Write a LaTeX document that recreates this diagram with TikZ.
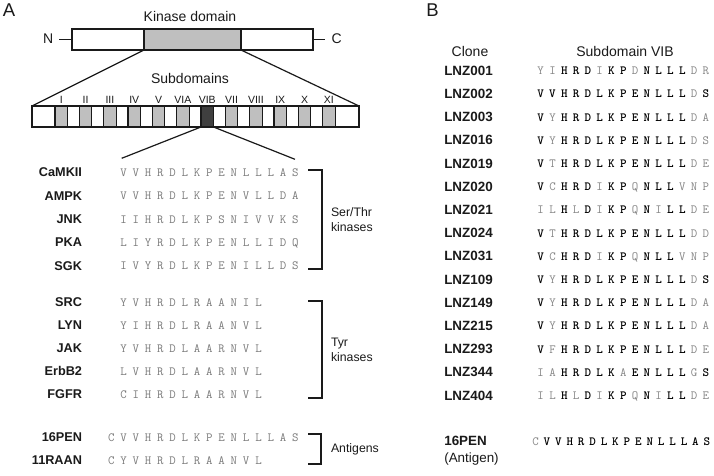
\documentclass[tikz,border=0pt]{standalone}
\usepackage{fontspec}
\setmainfont{Liberation Sans}
\definecolor{boxgrey}{HTML}{BFBFBF}
\definecolor{darkbox}{HTML}{3F3F3F}
\definecolor{seqgrey}{HTML}{7A7A7A}
\definecolor{seqlight}{HTML}{858585}
\definecolor{ink}{HTML}{1A1A1A}
\tikzset{
 txt/.style={inner sep=0pt, outer sep=0pt, text depth=0pt, text height=0.72em, text=ink},
 panel/.style={txt, font=\fontsize{18.5}{20}\selectfont},
 head/.style={txt, font=\fontsize{14}{16}\selectfont},
 rom/.style={txt, font=\fontsize{10.5}{12}\selectfont},
 nameA/.style={txt, anchor=east, font=\fontsize{12.7}{15}\selectfont\bfseries},
 nameB/.style={txt, anchor=west, font=\fontsize{13.4}{15}\selectfont\bfseries},
 grp/.style={inner sep=0pt, outer sep=0pt, anchor=west, align=left, text=ink, font=\fontsize{12.3}{15}\selectfont},
 seqbase/.style={inner sep=0pt, outer sep=0pt, text depth=0pt, text height=0.61em},
 seqa/.style={seqbase, font=\fontsize{12.5}{13}\ttfamily, text=seqgrey},
 seqn/.style={seqbase, font=\fontsize{12.5}{13}\ttfamily, text=seqlight},
 seqb/.style={seqbase, font=\fontsize{12.5}{13}\ttfamily\bfseries, text=black},
 bar/.style={draw=ink, line width=1.2pt, fill=white, inner sep=0pt, outer sep=0pt, minimum height=21pt},
 conn/.style={draw=ink, line width=1.2pt},
 brk/.style={draw=ink, line width=1.3pt},
}
\newcommand\seqA[4]{%
 \foreach \c [count=\i from 0] in {#4} {\node[seqa] (#1-\i) at ({123.5+12.27*(\i+#2)}, #3) {\c};}}
\newcommand\seqB[5]{%
 \foreach \s/\c [count=\i from 0] in {#5} {\node[seq\s] (#1-\i) at ({#2+#3*\i}, #4) {\c};}}
\begin{document}
\begin{tikzpicture}[x=1pt,y=-1pt]
\useasboundingbox (0,0) rectangle (714,476);
\fill[white] (0,0) rectangle (714,476);

% ---------- Panel A ----------
\node[panel] (labA) at (9,13.3) {A};
\node[head] (kdlab) at (190,18) {Kinase domain};
\node[bar, minimum width=241pt] (prot) at (192.5,39.5) {};
\node[bar, fill=boxgrey, minimum width=97pt] (kd) at (192.5,39.5) {};
\node[head] (nterm) at (48.3,39.5) {N};
\node[head] (cterm) at (336.7,39.5) {C};
\draw[conn] (nterm.east) ++(6pt,0) -- (prot.west);
\draw[conn] (prot.east) -- ++(12pt,0);

\node[head] (sublab) at (190,80) {Subdomains};
\node[bar, minimum width=327pt] (sd) at (195.5,116.5) {};
\foreach \k in {0,...,10} {
  \pgfmathsetmacro\wx{61.25+24.33*\k+12.165}
  \node[bar, minimum width=11.8pt] (wh\k) at (\wx,116.5) {};
}
\foreach \r [count=\k from 0] in {I,II,III,IV,V,VIA,VIB,VII,VIII,IX,X,XI} {
  \pgfmathsetmacro\cx{61.25+24.33*\k}
  \ifnum\k=6
    \node[bar, fill=darkbox, minimum width=12.5pt] (sub\k) at (\cx,116.5) {};
  \else
    \node[bar, fill=boxgrey, minimum width=12.5pt] (sub\k) at (\cx,116.5) {};
  \fi
  \node[rom] (rl\k) at (\cx,100) {\r};
}
\draw[conn] (kd.south west) -- (sd.north west);
\draw[conn] (kd.south east) -- (sd.north east);
\coordinate (zl) at (121.7,158.3);
\coordinate (zr) at (295,159.3);
\draw[conn] (sub6.south west) -- (zl);
\draw[conn] (sub6.south east) -- (zr);

% names
\node[nameA] (nCaMKII) at (82,173.3) {CaMKII};
\node[nameA] (nAMPK) at (82,196.7) {AMPK};
\node[nameA] (nJNK) at (82,220) {JNK};
\node[nameA] (nPKA) at (82,243.3) {PKA};
\node[nameA] (nSGK) at (82,266.7) {SGK};
\node[nameA] (nSRC) at (82,303) {SRC};
\node[nameA] (nLYN) at (82,326) {LYN};
\node[nameA] (nJAK) at (82,349) {JAK};
\node[nameA] (nErbB) at (82,372) {ErbB2};
\node[nameA] (nFGFR) at (82,395) {FGFR};
\node[nameA] (n16A) at (82,438) {16PEN};
\node[nameA] (n11A) at (82,461) {11RAAN};

\seqA{sCaMKII}{0}{173.3}{V,V,H,R,D,L,K,P,E,N,L,L,L,A,S}
\seqA{sAMPK}{0}{196.7}{V,V,H,R,D,L,K,P,E,N,V,L,L,D,A}
\seqA{sJNK}{0}{220}{I,I,H,R,D,L,K,P,S,N,I,V,V,K,S}
\seqA{sPKA}{0}{243.3}{L,I,Y,R,D,L,K,P,E,N,L,L,I,D,Q}
\seqA{sSGK}{0}{266.7}{I,V,Y,R,D,L,K,P,E,N,I,L,L,D,S}
\seqA{sSRC}{0}{303}{Y,V,H,R,D,L,R,A,A,N,I,L}
\seqA{sLYN}{0}{326}{Y,I,H,R,D,L,R,A,A,N,V,L}
\seqA{sJAK}{0}{349}{Y,V,H,R,D,L,A,A,R,N,V,L}
\seqA{sErbB}{0}{372}{L,V,H,R,D,L,A,A,R,N,V,L}
\seqA{sFGFR}{0}{395}{C,I,H,R,D,L,A,A,R,N,V,L}
\seqA{s16A}{-1}{438}{C,V,V,H,R,D,L,K,P,E,N,L,L,L,A,S}
\seqA{s11A}{-1}{461}{C,Y,V,H,R,D,L,R,A,A,N,V,L}

% brackets
\draw[brk] (308,170) -- (322,170) -- (322,269) -- (308,269);
\draw[brk] (308,301) -- (322,301) -- (322,398) -- (308,398);
\draw[brk] (308,434) -- (321,434) -- (321,464) -- (308,464);
\node[grp] (gST) at (331,219.5) {Ser/Thr\\kinases};
\node[grp] (gTyr) at (331,349.5) {Tyr\\kinases};
\node[grp] (gAg) at (331,449) {Antigens};

% ---------- Panel B ----------
\node[panel] (labB) at (432.5,13.3) {B};
\node[head] (hClone) at (470,53) {Clone};
\node[head] (hSub) at (625,53) {Subdomain VIB};

\node[nameB] (b001) at (444.3,71.7) {LNZ001};
\node[nameB] (b002) at (444.3,94.9) {LNZ002};
\node[nameB] (b003) at (444.3,118.1) {LNZ003};
\node[nameB] (b016) at (444.3,141.3) {LNZ016};
\node[nameB] (b019) at (444.3,164.5) {LNZ019};
\node[nameB] (b020) at (444.3,187.7) {LNZ020};
\node[nameB] (b021) at (444.3,210.9) {LNZ021};
\node[nameB] (b024) at (444.3,234.1) {LNZ024};
\node[nameB] (b031) at (444.3,257.3) {LNZ031};
\node[nameB] (b109) at (444.3,280.5) {LNZ109};
\node[nameB] (b149) at (444.3,303.7) {LNZ149};
\node[nameB] (b215) at (444.3,326.9) {LNZ215};
\node[nameB] (b293) at (444.3,350.1) {LNZ293};
\node[nameB] (b344) at (444.3,373.3) {LNZ344};
\node[nameB] (b404) at (444.3,396.5) {LNZ404};
\node[nameB] (b16) at (444.3,442) {16PEN};
\node[txt, anchor=west, font=\fontsize{13.4}{15}\selectfont] (bAg) at (444.3,459) {(Antigen)};

\def\px{540.7}\def\pp{11.8}
\seqB{q001}{\px}{\pp}{71.7}{n/Y,n/I,b/H,b/R,b/D,n/I,b/K,b/P,n/D,b/N,b/L,b/L,b/L,n/D,n/R}
\seqB{q002}{\px}{\pp}{94.9}{b/V,b/V,b/H,b/R,b/D,b/L,b/K,b/P,b/E,b/N,b/L,b/L,b/L,n/D,b/S}
\seqB{q003}{\px}{\pp}{118.1}{b/V,n/Y,b/H,b/R,b/D,b/L,b/K,b/P,b/E,b/N,b/L,b/L,b/L,n/D,n/A}
\seqB{q016}{\px}{\pp}{141.3}{b/V,n/Y,b/H,b/R,b/D,b/L,b/K,b/P,b/E,b/N,b/L,b/L,b/L,n/D,n/S}
\seqB{q019}{\px}{\pp}{164.5}{b/V,n/T,b/H,b/R,b/D,b/L,b/K,b/P,b/E,b/N,b/L,b/L,b/L,n/D,n/E}
\seqB{q020}{\px}{\pp}{187.7}{b/V,n/C,b/H,b/R,b/D,n/I,b/K,b/P,n/Q,b/N,b/L,b/L,n/V,n/N,n/P}
\seqB{q021}{\px}{\pp}{210.9}{n/I,n/L,b/H,n/L,b/D,n/I,b/K,b/P,n/Q,b/N,n/I,b/L,b/L,n/D,n/E}
\seqB{q024}{\px}{\pp}{234.1}{b/V,n/T,b/H,b/R,b/D,b/L,b/K,b/P,b/E,b/N,b/L,b/L,b/L,n/D,n/D}
\seqB{q031}{\px}{\pp}{257.3}{b/V,n/C,b/H,b/R,b/D,n/I,b/K,b/P,n/Q,b/N,b/L,b/L,n/V,n/N,n/P}
\seqB{q109}{\px}{\pp}{280.5}{b/V,n/Y,b/H,b/R,b/D,b/L,b/K,b/P,b/E,b/N,b/L,b/L,b/L,n/D,b/S}
\seqB{q149}{\px}{\pp}{303.7}{b/V,n/Y,b/H,b/R,b/D,b/L,b/K,b/P,b/E,b/N,b/L,b/L,b/L,n/D,n/A}
\seqB{q215}{\px}{\pp}{326.9}{b/V,n/Y,b/H,b/R,b/D,b/L,b/K,b/P,b/E,b/N,b/L,b/L,b/L,n/D,n/A}
\seqB{q293}{\px}{\pp}{350.1}{b/V,n/F,b/H,b/R,b/D,b/L,b/K,b/P,b/E,b/N,b/L,b/L,b/L,n/D,n/E}
\seqB{q344}{\px}{\pp}{373.3}{n/I,n/A,b/H,b/R,b/D,b/L,b/K,n/A,b/E,b/N,b/L,b/L,b/L,n/G,b/S}
\seqB{q404}{\px}{\pp}{396.5}{n/I,n/L,b/H,n/L,b/D,n/I,b/K,b/P,n/Q,b/N,n/I,b/L,b/L,n/D,n/E}
\seqB{q16}{535.5}{11.43}{442}{n/C,b/V,b/V,b/H,b/R,b/D,b/L,b/K,b/P,b/E,b/N,b/L,b/L,b/L,b/A,b/S}
\end{tikzpicture}
\end{document}
